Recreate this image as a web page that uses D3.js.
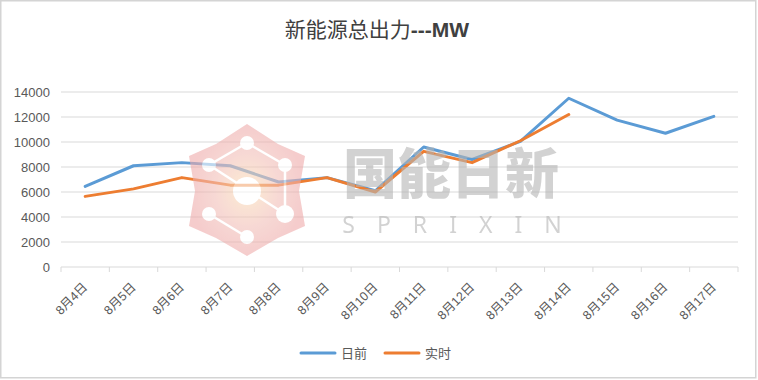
<!DOCTYPE html>
<html lang="zh">
  <head>
    <meta charset="UTF-8" />
    <title>新能源总出力---MW</title>
    <script src="https://d3js.org/d3.v7.min.js"></script>
    <style>
      body {
        margin: 0;
        background: #fff;
      }
      svg text {
        font-family: "Liberation Sans", Arial, "Noto Sans CJK SC", sans-serif;
        fill: #595959;
      }
    </style>
  </head>
  <body>
    <svg id="chart" width="758" height="380"></svg>

    <script>
      // chart data
      const dates = ["8月4日", "8月5日", "8月6日", "8月7日", "8月8日", "8月9日", "8月10日",
        "8月11日", "8月12日", "8月13日", "8月14日", "8月15日", "8月16日", "8月17日"];
      const dayAhead = [6450, 8100, 8350, 8100, 6800, 7150, 6100, 9600, 8600, 10050, 13500, 11750, 10700, 12050];
      const realTime = [5650, 6250, 7150, 6550, 6550, 7150, 6000, 9250, 8350, 10100, 12200];
      const yTicks = [0, 2000, 4000, 6000, 8000, 10000, 12000, 14000];
      const seriesNames = ["日前", "实时"];
      const colors = ["#5B9BD5", "#ED7D31"];

      const svg = d3.select("#chart");
      const W = +svg.attr("width");
      const H = +svg.attr("height");
      const margin = { top: 92, right: 20, bottom: 113, left: 61 };
      const width = W - margin.left - margin.right;
      const height = H - margin.top - margin.bottom;

      // chart area border
      svg.append("rect")
        .attr("x", 0.75).attr("y", 0.75)
        .attr("width", W - 3).attr("height", H - 3)
        .attr("fill", "#fff")
        .attr("stroke", "#d4d4d4")
        .attr("stroke-width", 1.5);

      // title
      const title = svg.append("text")
        .attr("x", W / 2 - 2)
        .attr("y", 37)
        .attr("text-anchor", "middle")
        .style("fill", "#404040");
      title.append("tspan")
        .style("font-family", "'Noto Sans CJK SC', sans-serif")
        .style("font-size", "21px")
        .text("新能源总出力");
      title.append("tspan")
        .style("font-size", "21px")
        .style("font-weight", "bold")
        .text("---MW");

      const g = svg.append("g")
        .attr("transform", `translate(${margin.left},${margin.top})`);

      const x = d3.scaleBand().domain(dates).range([0, width]);
      const y = d3.scaleLinear().domain([0, 14000]).range([height, 0]);
      const cx = (d) => x(d) + x.bandwidth() / 2;

      // gridlines
      g.append("g")
        .selectAll("line")
        .data(yTicks.filter((t) => t > 0))
        .join("line")
        .attr("x1", 0).attr("x2", width)
        .attr("y1", (d) => y(d)).attr("y2", (d) => y(d))
        .attr("stroke", "#d9d9d9")
        .attr("stroke-width", 1);

      // y axis labels
      const yAxis = g.append("g")
        .call(d3.axisLeft(y).tickValues(yTicks).tickSize(0).tickPadding(11).tickFormat(d3.format("d")));
      yAxis.select(".domain").remove();
      yAxis.selectAll("text")
        .style("font-size", "13px")
        .style("fill", "#595959");

      // x axis with boundary ticks
      const xAxis = g.append("g").attr("transform", `translate(0,${height})`);
      xAxis.append("line")
        .attr("x1", 0).attr("x2", width)
        .attr("stroke", "#d9d9d9").attr("stroke-width", 1);
      xAxis.selectAll(".tk")
        .data(d3.range(dates.length + 1))
        .join("line")
        .attr("class", "tk")
        .attr("x1", (i) => i * x.bandwidth()).attr("x2", (i) => i * x.bandwidth())
        .attr("y1", 0).attr("y2", 5)
        .attr("stroke", "#d9d9d9");
      xAxis.selectAll(".lbl")
        .data(dates)
        .join("text")
        .attr("class", "lbl")
        .attr("transform", (d) => `translate(${cx(d) + 3},${21}) rotate(-45)`)
        .attr("text-anchor", "end")
        .style("font-family", "'Liberation Sans', 'Noto Sans CJK SC', sans-serif")
        .style("font-size", "12.5px")
        .text((d) => d);

      // lines
      const line = d3.line()
        .x((d, i) => cx(dates[i]))
        .y((d) => y(d));

      [dayAhead, realTime].forEach((vals, k) => {
        g.append("path")
          .datum(vals)
          .attr("fill", "none")
          .attr("stroke", colors[k])
          .attr("stroke-width", 3)
          .attr("stroke-linejoin", "round")
          .attr("stroke-linecap", "round")
          .attr("d", line);
      });

      // watermark (logo + text), drawn semi-transparent over the plot
      const defs = svg.append("defs");
      const grad = defs.append("radialGradient").attr("id", "wmGrad");
      grad.append("stop").attr("offset", "0%").attr("stop-color", "#fbe0b4");
      grad.append("stop").attr("offset", "55%").attr("stop-color", "#f2bfb8");
      grad.append("stop").attr("offset", "100%").attr("stop-color", "#eeaaaa");

      const wm = svg.append("g").attr("opacity", 0.6);
      const lc = { x: 247, y: 190 };
      const outer = [[0, -66], [58, -34], [58, 36], [0, 66], [-58, 36], [-58, -34]];
      const inner = [[31, -46], [52, 1], [31, 48], [-31, 48], [-52, 1], [-31, -46]];
      const pts = [];
      outer.forEach((p, i) => { pts.push(p); pts.push(inner[i]); });
      wm.append("path")
        .attr("transform", `translate(${lc.x},${lc.y})`)
        .attr("d", d3.line().curve(d3.curveLinearClosed)(pts))
        .attr("fill", "url(#wmGrad)");
      const nodes = [[0, -47], [-38, -25], [38, -25], [-38, 24], [38, 24], [0, 47]];
      const logo = wm.append("g").attr("transform", `translate(${lc.x},${lc.y})`);
      [[0, 2], [1, 0], [1, 4], [3, 5], [2, 4]].forEach(([a, b]) => {
        logo.append("line")
          .attr("x1", nodes[a][0]).attr("y1", nodes[a][1])
          .attr("x2", nodes[b][0]).attr("y2", nodes[b][1])
          .attr("stroke", "#fff").attr("stroke-width", 2.5);
      });
      logo.selectAll("circle.n")
        .data(nodes)
        .join("circle")
        .attr("cx", (d) => d[0]).attr("cy", (d) => d[1])
        .attr("r", (d, i) => (i === 4 ? 9 : 7))
        .attr("fill", "#fff");
      logo.append("circle").attr("cx", 0).attr("cy", 1).attr("r", 14).attr("fill", "#fff");

      wm.append("text")
        .attr("x", 451).attr("y", 194)
        .attr("text-anchor", "middle")
        .style("font-family", "'Noto Sans CJK SC', sans-serif")
        .style("font-weight", "900")
        .style("font-size", "54px")
        .style("fill", "#b5b5b5")
        .text("国能日新");
      wm.append("text")
        .attr("x", 463).attr("y", 233)
        .attr("text-anchor", "middle")
        .style("font-family", "'Noto Sans', sans-serif")
        .style("font-size", "23px")
        .style("letter-spacing", "22px")
        .style("fill", "#b5b5b5")
        .text("SPRIXIN");

      // legend
      const legend = svg.append("g").attr("transform", `translate(${W / 2 - 78},353)`);
      seriesNames.forEach((name, k) => {
        const item = legend.append("g").attr("transform", `translate(${k * 84},0)`);
        item.append("line")
          .attr("x1", 0).attr("x2", 34)
          .attr("stroke", colors[k]).attr("stroke-width", 3)
          .attr("stroke-linecap", "round");
        item.append("text")
          .attr("x", 40).attr("y", 5)
          .style("font-family", "'Noto Sans CJK SC', sans-serif")
          .style("font-size", "13px")
          .text(name);
      });
    </script>
  </body>
</html>
